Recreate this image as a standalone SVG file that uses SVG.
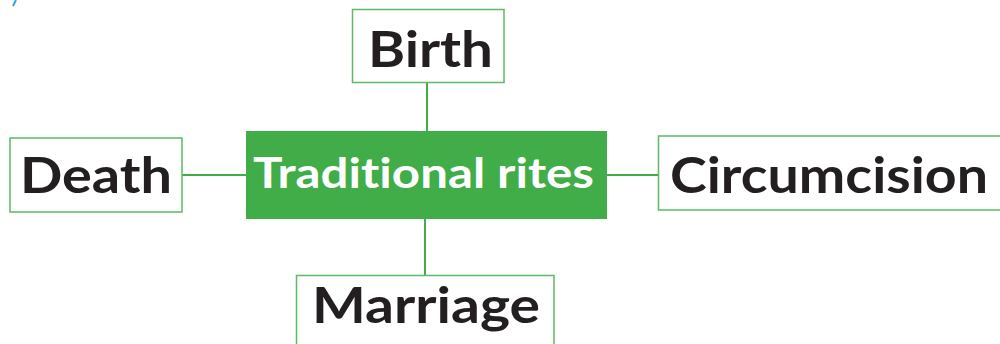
<svg xmlns="http://www.w3.org/2000/svg" width="1000" height="344" viewBox="0 0 1000 344">
<style>
.box{fill:#fff;stroke:#5cbb63;stroke-width:1.5}
.lbl{font-family:Lato,"Open Sans","Liberation Sans",sans-serif;font-weight:bold;font-size:50px;fill:#231f20;text-anchor:middle;font-variant-ligatures:none}
.ctr{font-family:Lato,"Open Sans","Liberation Sans",sans-serif;font-weight:bold;font-size:42px;fill:#fff;text-anchor:middle;font-variant-ligatures:none}
.conn{stroke:#40ad48;stroke-width:2;fill:none}
</style>
<rect width="1000" height="344" fill="#fff"/>
<path d="M13 6 L16 0" stroke="#29a8e0" stroke-width="2"/>
<g id="connectors">
<line class="conn" x1="427" y1="82" x2="427" y2="131"/>
<line class="conn" x1="182" y1="175" x2="246" y2="175"/>
<line class="conn" x1="607" y1="175" x2="658" y2="175"/>
<line class="conn" x1="425" y1="219" x2="425" y2="275"/>
</g>
<g id="center">
<rect x="246" y="131" width="361" height="88" fill="#40ad48"/>
<text class="ctr" x="423.5" y="188" textLength="341" lengthAdjust="spacingAndGlyphs">Traditional rites</text>
</g>
<g id="birth">
<rect class="box" x="352.5" y="9.5" width="151.5" height="73"/>
<text class="lbl" x="430.5" y="67" textLength="125" lengthAdjust="spacingAndGlyphs">Birth</text>
</g>
<g id="death">
<rect class="box" x="10" y="138" width="172" height="74"/>
<text class="lbl" x="96" y="193" textLength="152" lengthAdjust="spacingAndGlyphs">Death</text>
</g>
<g id="circumcision">
<rect class="box" x="658.5" y="136" width="345" height="74"/>
<text class="lbl" x="829" y="193" textLength="318" lengthAdjust="spacingAndGlyphs">Circumcision</text>
</g>
<g id="marriage">
<rect class="box" x="296.5" y="275.5" width="257.5" height="80"/>
<text class="lbl" x="426" y="323" textLength="228" lengthAdjust="spacingAndGlyphs">Marriage</text>
</g>
</svg>
